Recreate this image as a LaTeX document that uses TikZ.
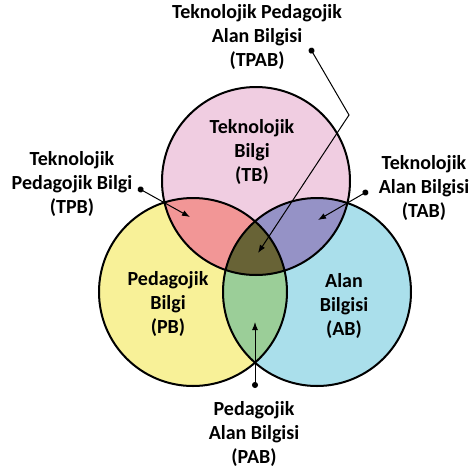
\documentclass[tikz,border=0pt]{standalone}
\usepackage{fontspec}
\setmainfont{Carlito}
\usetikzlibrary{arrows.meta}
\definecolor{tbcol}{RGB}{240,205,225}
\definecolor{pbcol}{RGB}{248,241,152}
\definecolor{abcol}{RGB}{170,223,235}
\definecolor{tpcol}{RGB}{242,150,150}
\definecolor{tacol}{RGB}{149,146,198}
\definecolor{pacol}{RGB}{155,206,152}
\definecolor{tpacol}{RGB}{104,99,54}
\tikzset{
  txt/.style={align=center, font=\fontsize{20}{24}\selectfont\bfseries, inner sep=0pt},
  ring/.style={draw=black, line width=2pt},
  pointer/.style={draw, line width=1pt, {Circle[length=6pt]}-{Latex[length=8pt,width=6pt]}}
}
\begin{document}
\begin{tikzpicture}[x=1pt,y=-1pt]
        \useasboundingbox (0,0) rectangle (471,475);
        \def\r{94}
        \coordinate (T) at (256,181);
        \coordinate (P) at (193,292);
        \coordinate (A) at (317,292);

        % circles
        \fill[tbcol] (T) circle (\r);
        \fill[pbcol] (P) circle (\r);
        \fill[abcol] (A) circle (\r);
        \begin{scope}
            \clip (T) circle (\r);
            \fill[tpcol] (P) circle (\r);
            \fill[tacol] (A) circle (\r);
        \end{scope}
        \begin{scope}
            \clip (P) circle (\r);
            \fill[pacol] (A) circle (\r);
            \clip (A) circle (\r);
            \fill[tpacol] (T) circle (\r);
        \end{scope}
        \path[ring] (T) circle (\r);
        \path[ring] (P) circle (\r);
        \path[ring] (A) circle (\r);

        \node[txt] (TB) at (252,152) {Teknolojik\\Bilgi\\(TB)};
        \node[txt] (PB) at (168,304) {Pedagojik\\Bilgi\\(PB)};
        \node[txt] (AB) at (344,306) {Alan\\Bilgisi\\(AB)};

        \node[txt] (TPAB) at (257,37) {Teknolojik Pedagojik\\Alan Bilgisi\\(TPAB)};
        \node[txt] (TPB) at (72,184) {Teknolojik\\Pedagojik Bilgi\\(TPB)};
        \node[txt] (TAB) at (424,188) {Teknolojik\\Alan Bilgisi\\(TAB)};
        \node[txt] (PAB) at (254,434) {Pedagojik\\Alan Bilgisi\\(PAB)};

        \coordinate (tpab0) at (310,48);
        \coordinate (tpab1) at (349,115);
        \coordinate (tpab2) at (258,253);
        \coordinate (tpb0) at (138,188);
        \coordinate (tpb1) at (190,217);
        \coordinate (tab0) at (368,191);
        \coordinate (tab1) at (318,220);
        \coordinate (pab0) at (255,388);
        \coordinate (pab1) at (255,322);

        \path[pointer] (tpab0) -- (tpab1) -- (tpab2);
        \path[pointer] (tpb0) -- (tpb1);
        \path[pointer] (tab0) -- (tab1);
        \path[pointer] (pab0) -- (pab1);
    \end{tikzpicture}
\end{document}
